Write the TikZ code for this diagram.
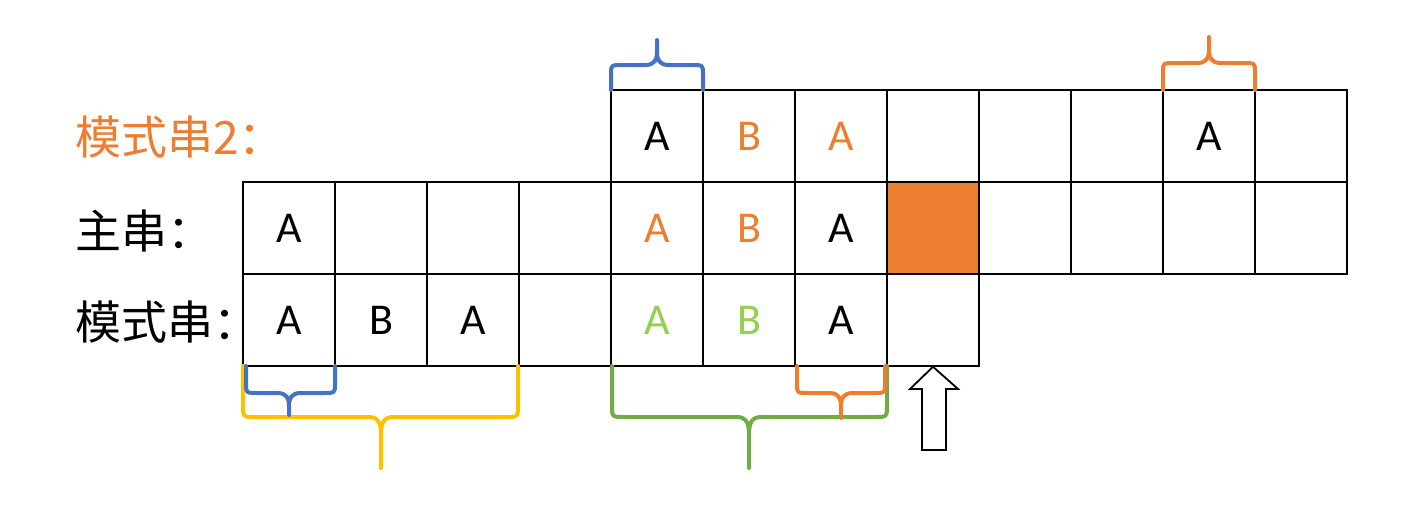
\documentclass[tikz,border=0pt]{standalone}
\usepackage{fontspec}
\setmainfont{Carlito}
\newfontfamily\cjk{Noto Sans CJK SC}
\definecolor{orng}{HTML}{ED7D31}
\definecolor{lgrn}{HTML}{92D050}
\definecolor{grn}{HTML}{70AD47}
\definecolor{blu}{HTML}{4472C4}
\definecolor{ylw}{HTML}{FFC000}
% #1 colour, #2 left x, #3 right x, #4 start y, #5 bar y, #6 tip y, #7 tip x, #8 corner r (signed)
\newcommand{\mybrace}[8]{%
  \draw[braceline,#1] (#2,#4) -- (#2,#5-#8) .. controls (#2,#5) .. (#2+12,#5) -- (#7-12,#5)
     .. controls (#7-2,#5) and (#7,#5+0.6*#8) .. (#7,#5+1.5*#8) -- (#7,#6);
  \draw[braceline,#1] (#3,#4) -- (#3,#5-#8) .. controls (#3,#5) .. (#3-12,#5) -- (#7+12,#5)
     .. controls (#7+2,#5) and (#7,#5+0.6*#8) .. (#7,#5+1.5*#8);
}
\begin{document}
\begin{tikzpicture}[x=0.5pt,y=-0.5pt,
  cell/.style={draw=black,line width=0.75pt,minimum width=46pt,minimum height=46pt,inner sep=0pt,
    font=\fontsize{22}{22}\selectfont},
  lab/.style={anchor=west,inner sep=0pt,font=\cjk\fontsize{23}{23}\selectfont},
  braceline/.style={line width=2pt,line cap=round,line join=round},
  hollowarrow/.style={draw=black,line width=0.9pt,fill=white,line join=miter}]
\useasboundingbox (0,0) rectangle (1412,514);
% labels
\node[lab,text=orng] (lab2) at (75,137) {模式串2：};
\node[lab] (labm) at (75,231) {主串：};
\node[lab] (labp) at (75,322) {模式串：};
% main string row
\foreach \i in {0,...,11} {\node[cell] (m\i) at (289+92*\i,228) {};}
% pattern row
\foreach \i in {0,...,7} {\node[cell] (b\i) at (289+92*\i,320) {};}
% pattern 2 row
\foreach \i in {4,...,11} {\node[cell] (t\i) at (289+92*\i,136) {};}
\node[cell,fill=orng] (m7f) at (m7) {};
% contents
\node[cell,draw=none] at (t4) {A};
\node[cell,draw=none,text=orng] at (t5) {B};
\node[cell,draw=none,text=orng] at (t6) {A};
\node[cell,draw=none] at (t10) {A};
\node[cell,draw=none] at (m0) {A};
\node[cell,draw=none,text=orng] at (m4) {A};
\node[cell,draw=none,text=orng] at (m5) {B};
\node[cell,draw=none] at (m6) {A};
\node[cell,draw=none] at (b0) {A};
\node[cell,draw=none] at (b1) {B};
\node[cell,draw=none] at (b2) {A};
\node[cell,draw=none,text=lgrn] at (b4) {A};
\node[cell,draw=none,text=lgrn] at (b5) {B};
\node[cell,draw=none] at (b6) {A};
% braces
\mybrace{ylw}{243}{518}{366}{417}{468}{381}{12}
\mybrace{blu}{246}{335}{366}{393}{415}{289}{9}
\mybrace{grn}{612}{887}{366}{417}{468}{749}{12}
\mybrace{orng}{797}{885}{366}{393}{418}{841}{9}
\mybrace{blu}{611}{703}{90}{65}{40}{657}{-9}
\mybrace{orng}{1163}{1255}{90}{63}{37}{1209}{-9}
% arrow
\coordinate (atip) at (b7.south);
\draw[hollowarrow] (atip) -- (958,389) -- (946,389) -- (946,450) -- (922,450) -- (922,389) -- (910,389) -- cycle;
\end{tikzpicture}
\end{document}
